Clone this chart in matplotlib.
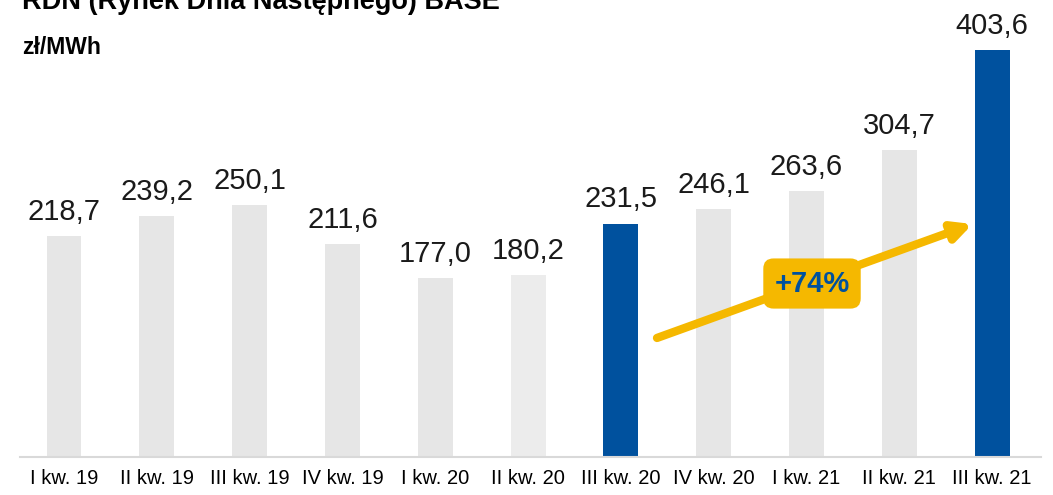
import numpy as np
import matplotlib.pyplot as plt

quarters = ["I kw. 19", "II kw. 19", "III kw. 19", "IV kw. 19", "I kw. 20", "II kw. 20",
            "III kw. 20", "IV kw. 20", "I kw. 21", "II kw. 21", "III kw. 21"]
prices = [218.7, 239.2, 250.1, 211.6, 177.0, 180.2, 231.5, 246.1, 263.6, 304.7, 403.6]
labels = ["218,7", "239,2", "250,1", "211,6", "177,0", "180,2", "231,5", "246,1", "263,6", "304,7", "403,6"]
change = "+74%"

gray = "#e6e6e6"
light = "#ececec"
blue = "#00519e"
yellow = "#f5b800"
colors = [gray] * 5 + [light, blue, gray, gray, gray, blue]

plt.rcParams['font.family'] = ['Liberation Sans', 'DejaVu Sans']

fig = plt.figure(figsize=(10.53, 4.95), dpi=100)
ax = fig.add_axes([0.019, 0.077, 0.97, 0.843])
x = np.arange(len(prices))
ax.bar(x, prices, width=0.377, color=colors, zorder=2)

for xi, v, lab in zip(x, prices, labels):
    ax.text(xi, v + 10, lab, ha="center", va="bottom", fontsize=21, color="#1a1a1a")

ax.set_xlim(-0.474, 10.532)
ax.set_ylim(0, 414)
ax.set_xticks(x)
ax.set_xticklabels(quarters, fontsize=14.5)
ax.tick_params(axis="x", length=0, pad=9)
ax.set_yticks([])
for s in ["top", "right", "left"]:
    ax.spines[s].set_visible(False)
ax.spines["bottom"].set_color("#d9d9d9")
ax.spines["bottom"].set_linewidth(1.5)

ax.annotate("", xy=(9.79, 231), xytext=(6.39, 118),
            arrowprops=dict(arrowstyle="-|>,head_length=1.1,head_width=0.55",
                            color=yellow, lw=6, shrinkA=0, shrinkB=0), zorder=3)
ax.text(8.06, 172, change, ha="center", va="center", fontsize=21, fontweight="bold",
        color=blue, zorder=4,
        bbox=dict(boxstyle="round,pad=0.38,rounding_size=0.35", fc=yellow, ec="none"))

fig.text(0.021, 0.981, "RDN (Rynek Dnia Następnego) BASE", fontsize=19.5, fontweight="bold",
         va="baseline", ha="left")
fig.text(0.021, 0.905, "zł/MWh", fontsize=16.5, fontweight="bold", va="center", ha="left")

fig.savefig("out.png", dpi=100)
